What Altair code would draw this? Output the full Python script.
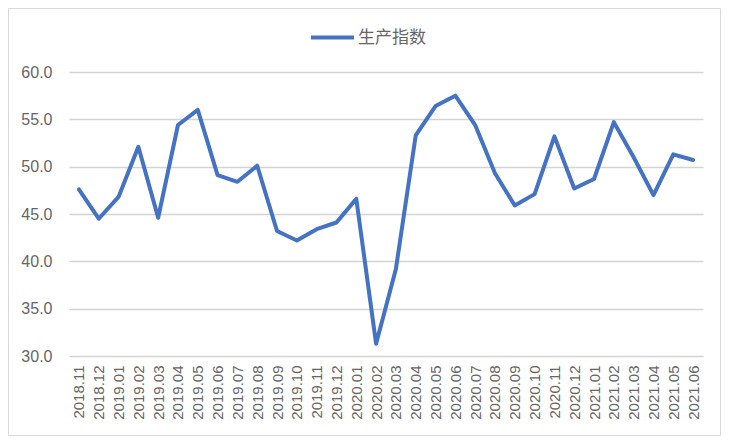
import altair as alt
import pandas as pd

months = ["2018.11", "2018.12", "2019.01", "2019.02", "2019.03", "2019.04", "2019.05", "2019.06",
          "2019.07", "2019.08", "2019.09", "2019.10", "2019.11", "2019.12", "2020.01", "2020.02",
          "2020.03", "2020.04", "2020.05", "2020.06", "2020.07", "2020.08", "2020.09", "2020.10",
          "2020.11", "2020.12", "2021.01", "2021.02", "2021.03", "2021.04", "2021.05", "2021.06"]
values = [47.6, 44.5, 46.8, 52.1, 44.6, 54.4, 56.0, 49.1,
          48.4, 50.1, 43.2, 42.2, 43.4, 44.1, 46.6, 31.3,
          39.2, 53.3, 56.4, 57.5, 54.4, 49.3, 45.9, 47.1,
          53.2, 47.7, 48.7, 54.7, 51.0, 47.0, 51.3, 50.7]
series_name = "生产指数"
y_ticks = [30, 35, 40, 45, 50, 55, 60]

df = pd.DataFrame({"month": months, "value": values, "series": [series_name] * len(months)})

W, H = 634, 284
PAD_L, PAD_T, PAD_R, PAD_B = 61, 64, 18, 80
TOTAL_W = PAD_L + W + PAD_R
TOTAL_H = PAD_T + H + PAD_B
TEXT_COLOR = "#666666"

line = alt.Chart(df).mark_line(strokeWidth=4, strokeCap="round", strokeJoin="round").encode(
    x=alt.X("month:N", sort=months, title=None,
            scale=alt.Scale(type="point", padding=0.5),
            axis=alt.Axis(labelAngle=270, labelFont="Liberation Sans", labelFontSize=15,
                          labelColor=TEXT_COLOR, ticks=False, domain=False, grid=False,
                          labelPadding=9)),
    y=alt.Y("value:Q", title=None, scale=alt.Scale(domain=[30, 60], nice=False, zero=False),
            axis=alt.Axis(values=y_ticks, format=".1f", labelFont="Liberation Sans",
                          labelFontSize=16, labelColor=TEXT_COLOR, ticks=False, domain=False,
                          grid=True, gridColor="#d4d4d4", gridWidth=1.5, labelPadding=17)),
    color=alt.Color("series:N", scale=alt.Scale(range=["#4472C4"]),
                    legend=alt.Legend(title=None, orient="none", legendX=240, legendY=-58,
                                      symbolType="stroke", symbolSize=1849, symbolStrokeWidth=4,
                                      labelFont="Noto Sans CJK SC", labelFontSize=17,
                                      labelColor=TEXT_COLOR, labelOffset=2)),
)

border = alt.Chart(pd.DataFrame({"b": [0]})).mark_rect(
    fill=None, stroke="#d9d9d9", strokeWidth=1
).encode(
    x=alt.value(-PAD_L + 0.5), x2=alt.value(TOTAL_W - PAD_L - 0.5),
    y=alt.value(-PAD_T + 0.5), y2=alt.value(TOTAL_H - PAD_T - 0.5),
)

chart = alt.layer(border, line).properties(
    width=W, height=H,
    background="white",
    autosize=alt.AutoSizeParams(type="none"),
    padding={"left": PAD_L, "top": PAD_T, "right": PAD_R, "bottom": PAD_B},
).configure_view(strokeWidth=0, stroke="transparent")

chart.save("out.html", embed_options={"renderer": "svg", "actions": False})
